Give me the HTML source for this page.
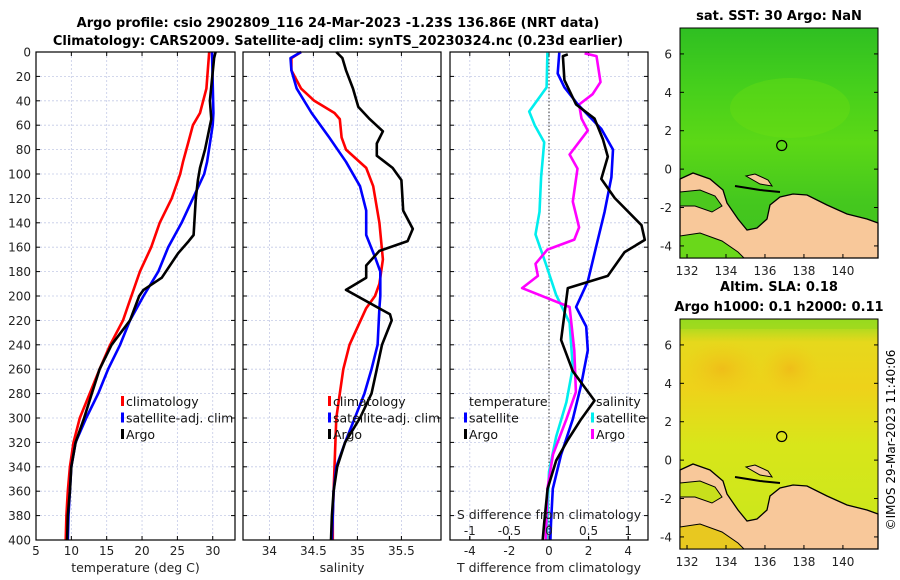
<!DOCTYPE html>
<html><head><meta charset="utf-8"><style>
body{margin:0;background:#fff;}
svg{display:block;font-family:"DejaVu Sans","Liberation Sans",sans-serif;}
</style></head><body>
<svg id="fig" width="900" height="580" viewBox="0 0 900 580" xmlns="http://www.w3.org/2000/svg">
<defs>
<linearGradient id="sstg" x1="0" y1="0" x2="0" y2="1">
<stop offset="0" stop-color="#2fbf22"/><stop offset="0.25" stop-color="#45cf1c"/><stop offset="0.5" stop-color="#5cd816"/><stop offset="0.75" stop-color="#45c81e"/><stop offset="1" stop-color="#3fc020"/></linearGradient>
<linearGradient id="slag" x1="0" y1="0" x2="0" y2="1">
<stop offset="0" stop-color="#8fdd20"/><stop offset="0.1" stop-color="#e6d81c"/><stop offset="0.3" stop-color="#eed21a"/><stop offset="0.55" stop-color="#d8e61a"/><stop offset="1" stop-color="#c8e81c"/></linearGradient>
<radialGradient id="orange1" cx="0.5" cy="0.5" r="0.5"><stop offset="0" stop-color="#f0b818" stop-opacity="0.8"/><stop offset="1" stop-color="#f0c818" stop-opacity="0"/></radialGradient>
</defs>
<text x="338" y="27" font-size="13" font-weight="bold" text-anchor="middle">Argo profile: csio 2902809_116 24-Mar-2023 -1.23S 136.86E (NRT data)</text>
<text x="338" y="45" font-size="13" font-weight="bold" text-anchor="middle">Climatology: CARS2009. Satellite-adj clim: synTS_20230324.nc (0.23d earlier)</text>
<g id="panels"></g>
<g id="maps"></g>
<text transform="translate(895,440) rotate(-90)" font-size="12" text-anchor="middle">©IMOS 29-Mar-2023 11:40:06</text>
</svg>
<script>
// ---- data ----
const tempClimDepth=[0,30,50,60,75,90,100,120,140,160,180,200,220,240,260,280,300,320,340,360,380,400];
const tempClim=[29.5,29.1,28.2,27.2,26.5,25.8,25.4,24.2,22.5,21.3,19.7,18.5,17.3,15.5,14,12.6,11.2,10.3,9.8,9.5,9.3,9.2];
const tempSatDepth=[0,50,60,90,100,120,140,160,180,200,220,240,260,280,300,320,340,360,380,400];
const tempSat=[29.9,30.1,30,29.2,28.8,27.2,25.6,23.7,22.3,20.2,18.3,16.9,15.2,13.8,12.1,10.6,10.0,9.8,9.6,9.5];
const tempArgoDepth=[0,5,40,55,80,95,105,120,150,155,165,185,195,200,220,240,260,280,300,320,340,360,380,400];
const tempArgo=[30.4,30.2,29.6,29.8,28.9,28.2,27.9,27.6,27.3,26.6,25.1,22.8,20.2,19.6,18.3,15.7,14,12.9,11.8,10.6,10,9.8,9.5,9.4];

const salClimDepth=[0,5,15,30,40,50,55,70,80,95,110,140,170,190,200,210,240,260,280,300,320,340,360,380,400];
const salClim=[34.36,34.25,34.25,34.36,34.51,34.74,34.80,34.82,34.87,35.10,35.18,35.25,35.29,35.25,35.2,35.1,34.91,34.84,34.80,34.76,34.75,34.74,34.73,34.72,34.72];
const salSatDepth=[0,5,15,30,50,70,90,110,130,150,170,180,200,210,240,260,280,300,320,340,360,380,400];
const salSat=[34.36,34.24,34.25,34.31,34.48,34.68,34.87,35.03,35.10,35.10,35.21,35.26,35.26,35.25,35.23,35.16,35.08,34.97,34.86,34.76,34.73,34.72,34.71];
const salArgoDepth=[0,5,15,30,45,55,65,75,85,95,105,130,145,155,163,175,185,195,215,220,240,260,280,300,320,340,360,380,400];
const salArgo=[34.76,34.83,34.87,34.95,35.01,35.14,35.29,35.22,35.22,35.40,35.50,35.52,35.63,35.57,35.25,35.10,35.10,34.87,35.37,35.39,35.28,35.22,35.16,35.03,34.86,34.77,34.73,34.71,34.70];

const dTsatDepth=[0.6,17.6,28.9,43,63,80,102.7,131,159,188,209,225,244.5,273,301,330,358,386,400];
const dTsat=[0.52,0.44,0.78,1.46,2.64,3.23,3.15,2.81,2.39,1.96,1.37,1.88,1.96,1.62,1.2,0.61,0.19,0.1,0.07];
const dTargoDepth=[2,3.4,23,43,54.5,71.5,85.7,104,119.7,142,154,164,183.5,193.5,236,261.6,285.7,301,318,335,358,386,400];
const dTargo=[0.95,0.7,0.78,1.37,2.3,2.72,2.97,2.64,3.32,4.67,4.84,3.82,2.97,0.95,0.61,1.2,2.3,1.62,0.95,0.36,-0.07,-0.24,-0.32];
const dSsatDepth=[0.6,29,48.8,60,74,102.7,131,149.5,173.6,199,222,258.7,287,315.5,344,400];
const dSsat=[-0.02,-0.03,-0.25,-0.18,-0.06,-0.10,-0.12,-0.17,-0.04,0.09,0.26,0.30,0.22,0.09,0.0,-0.03];
const dSargoDepth=[1.1,3.4,24.7,34.6,43,54.5,64.4,84,95.6,122.6,143.8,153.8,162,173.6,183.5,193.5,209,244.5,278.6,301,330,358,400];
const dSargo=[0.45,0.6,0.65,0.55,0.38,0.41,0.49,0.26,0.36,0.30,0.38,0.32,-0.02,-0.17,-0.14,-0.34,0.26,0.32,0.34,0.22,0.05,-0.02,-0.04];

const depthTicks=[0,20,40,60,80,100,120,140,160,180,200,220,240,260,280,300,320,340,360,380,400];
const tempTicks=[5,10,15,20,25,30];
const salTicks=[34,34.5,35,35.5];
const dTTicks=[-4,-2,0,2,4];
const dSTicks=[-1,-0.5,0,0.5,1];
const dSTickLabels=["-1","-0.5","0","0.5","1"];
const lonTicks=[132,134,136,138,140];
const latTicks=[6,4,2,0,-2,-4];
const argoLon=136.86, argoLat=1.23;

// ---- helpers ----
const NS="http://www.w3.org/2000/svg";
function mk(tag,attrs,parent,txt){const e=document.createElementNS(NS,tag);for(const k in attrs)e.setAttribute(k,attrs[k]);if(txt!==undefined)e.textContent=txt;parent.appendChild(e);return e;}
const TOP=52,BOT=540;
const yD=d=>TOP+d*(BOT-TOP)/400;
const panelsG=document.getElementById('panels');

function linScale(v0,v1,p0,p1){return v=>p0+(v-v0)*(p1-p0)/(v1-v0);}

const panels=[
 {name:'temperature-panel',x0:36,x1:235,sx:linScale(5,33.15,36,235),ticks:tempTicks,labels:tempTicks.map(String),xlabel:'temperature (deg C)',ylabels:true},
 {name:'salinity-panel',x0:243,x1:441,sx:linScale(33.7,35.95,243,441),ticks:salTicks,labels:salTicks.map(String),xlabel:'salinity',ylabels:false},
 {name:'difference-panel',x0:450,x1:648,sx:linScale(-5,5,450,648),ticks:dTTicks,labels:dTTicks.map(String),xlabel:'T difference from climatology',ylabels:false}
];

panels.forEach(p=>{
 const g=mk('g',{},panelsG);
 
 
 depthTicks.forEach(d=>{
  const l=mk('line',{x1:p.x0,x2:p.x1,y1:yD(d),y2:yD(d),stroke:'#c4cae6','stroke-width':0.8,'stroke-dasharray':'2,2'},g);
  
  
  mk('line',{x1:p.x0,x2:p.x0+4,y1:yD(d),y2:yD(d),stroke:'#000'},g);
  mk('line',{x1:p.x1,x2:p.x1-4,y1:yD(d),y2:yD(d),stroke:'#000'},g);
  if(p.ylabels){const t=mk('text',{x:p.x0-5,y:yD(d)+4.5,'font-size':12,'text-anchor':'end',fill:'#222'},g,String(d));
   }
 });
 p.ticks.forEach((v,i)=>{
  const x=p.sx(v);
  const l=mk('line',{x1:x,x2:x,y1:TOP,y2:BOT,stroke:'#c4cae6','stroke-width':0.8,'stroke-dasharray':'2,2'},g);
  
  
  mk('line',{x1:x,x2:x,y1:BOT,y2:BOT-4,stroke:'#000'},g);
  mk('line',{x1:x,x2:x,y1:TOP,y2:TOP+4,stroke:'#000'},g);
  const t=mk('text',{x:x,y:BOT+15,'font-size':12,'text-anchor':'middle',fill:'#222'},g,p.labels[i]);
  
  
 });
 const xl=mk('text',{x:(p.x0+p.x1)/2,y:572,'font-size':12.5,'text-anchor':'middle',fill:'#222'},g,p.xlabel);
 
 
 p.g=g;
});

function series(p,vals,depths,color,name){
 const pts=vals.map((v,i)=>p.sx(v).toFixed(1)+','+yD(depths[i]).toFixed(1)).join(' ');
 const l=mk('polyline',{points:pts,fill:'none',stroke:color,'stroke-width':2.6,'stroke-linejoin':'round'},p.g);
 
 
}
const P1=panels[0],P2=panels[1],P3=panels[2];
{const z=mk('line',{x1:P3.sx(0),x2:P3.sx(0),y1:TOP,y2:BOT,stroke:'#333','stroke-width':1,'stroke-dasharray':'1.5,2'},P3.g);
 }
series(P1,tempClim,tempClimDepth,'#ff0000','temp-climatology-line');
series(P1,tempSat,tempSatDepth,'#0000ff','temp-satellite-line');
series(P1,tempArgo,tempArgoDepth,'#000','temp-argo-line');
series(P2,salClim,salClimDepth,'#ff0000','sal-climatology-line');
series(P2,salSat,salSatDepth,'#0000ff','sal-satellite-line');
series(P2,salArgo,salArgoDepth,'#000','sal-argo-line');
const sxS=linScale(-1.25,1.25,450,648);
const P3S={sx:sxS,g:P3.g};
series(P3S,dSsat,dSsatDepth,'#00eeee','sdiff-satellite-line');
series(P3S,dSargo,dSargoDepth,'#ff00ff','sdiff-argo-line');
series(P3,dTsat,dTsatDepth,'#0000ff','tdiff-satellite-line');
series(P3,dTargo,dTargoDepth,'#000','tdiff-argo-line');
{const t=mk('text',{x:549,y:519,'font-size':12.5,'text-anchor':'middle',fill:'#222'},P3.g,'S difference from climatology');
 
 dSTicks.forEach((v,i)=>{const x=sxS(v);mk('line',{x1:x,x2:x,y1:BOT,y2:BOT-4,stroke:'#000'},P3.g);
  const l=mk('text',{x:x,y:535,'font-size':12,'text-anchor':'middle',fill:'#222'},P3.g,dSTickLabels[i]);
  });}
panels.forEach(p=>{const r=mk('rect',{x:p.x0,y:TOP,width:p.x1-p.x0,height:BOT-TOP,fill:'none',stroke:'#000','stroke-width':1.2},p.g);
 });
function legend(g,x,y,items){items.forEach((it,i)=>{
 const yy=y+i*16.5;
 if(it[1]){mk('rect',{x:x,y:yy-10,width:3,height:10,fill:it[1]},g);}
 const t=mk('text',{x:x+5,y:yy,'font-size':12.5,fill:'#111'},g,it[0]);
 });}
legend(P1.g,121,406,[['climatology','#f00'],['satellite-adj. clim','#00f'],['Argo','#000']]);
legend(P2.g,328,406,[['climatology','#f00'],['satellite-adj. clim','#00f'],['Argo','#000']]);
legend(P3.g,464,406,[['temperature',null],['satellite','#00f'],['Argo','#000']]);
legend(P3.g,591,406,[['salinity',null],['satellite','#0ee'],['Argo','#f0f']]);

// ---- maps ----
const mapsG=document.getElementById('maps');
const MX0=680,MX1=878,MH=230;
const mx=linScale(131.64,141.8,MX0,MX1);
const landPts=[[680,179],[693,173],[710,179],[723,190],[727,203],[738,219],[747,230],[757,228],[767,219],[770,205],[780,197],[793,194],[807,195],[827,205],[847,214],[867,219],[878,223],[878,258],[680,258]];
function drawMap(top,fillId,name,title1,title2){
 const g=mk('g',{},mapsG);
 
 
 const my=lat=>top+(7.35-lat)*19.2;
 mk('rect',{x:MX0,y:top,width:MX1-MX0,height:MH,fill:'url(#'+fillId+')'},g);
 if(fillId==='slag'){
  mk('ellipse',{cx:722,cy:top+50,rx:40,ry:28,fill:'url(#orange1)'},g);
  mk('ellipse',{cx:790,cy:top+50,rx:30,ry:26,fill:'url(#orange1)'},g);
  mk('rect',{x:MX0,y:top,width:MX1-MX0,height:10,fill:'#9ad81e',opacity:0.7},g);
 } else {
  mk('ellipse',{cx:790,cy:top+80,rx:60,ry:30,fill:'#70e010',opacity:0.35},g);
 }
 const off=top-28;
 const lp=mk('polygon',{points:landPts.map(q=>q[0]+','+(q[1]+off)).join(' '),fill:'#f8c89a',stroke:'#000','stroke-width':1.3},g);
 
 const sea=fillId==='sstg'?'#4cc81e':'#c8e01c';
 mk('polygon',{points:[[680,192],[700,190],[715,196],[722,206],[712,212],[695,206],[680,206]].map(q=>q[0]+','+(q[1]+off)).join(' '),fill:sea,stroke:'#000','stroke-width':1},g);
 mk('polygon',{points:[[680,236],[700,233],[722,241],[738,252],[744,258],[680,258]].map(q=>q[0]+','+(q[1]+off)).join(' '),fill:fillId==='sstg'?'#6ad81a':'#e8c820',stroke:'#000','stroke-width':1},g);
 mk('polygon',{points:[[746,176],[755,174],[768,180],[772,186],[760,184]].map(q=>q[0]+','+(q[1]+off)).join(' '),fill:'#f8c89a',stroke:'#000','stroke-width':1},g);
 mk('polyline',{points:[[735,186],[760,190],[780,192]].map(q=>q[0]+','+(q[1]+off)).join(' '),fill:'none',stroke:'#000','stroke-width':2},g);
 const c=mk('circle',{cx:mx(argoLon),cy:my(argoLat),r:5,fill:'none',stroke:'#000','stroke-width':1.2},g);
 
 mk('rect',{x:MX0,y:top,width:MX1-MX0,height:MH,fill:'none',stroke:'#000','stroke-width':1},g);
 lonTicks.forEach(v=>{const x=mx(v);mk('line',{x1:x,x2:x,y1:top+MH,y2:top+MH-4,stroke:'#000'},g);
  const t=mk('text',{x:x,y:top+MH+17,'font-size':12,'text-anchor':'middle',fill:'#222'},g,String(v));
  });
 latTicks.forEach(v=>{const y=my(v);mk('line',{x1:MX0,x2:MX0+4,y1:y,y2:y,stroke:'#000'},g);mk('line',{x1:MX1,x2:MX1-4,y1:y,y2:y,stroke:'#000'},g);
  const t=mk('text',{x:MX0-8,y:y+4.5,'font-size':12,'text-anchor':'end',fill:'#222'},g,String(v));
  });
 if(title1){const t=mk('text',{x:779,y:title2?top-28:top-8,'font-size':13,'font-weight':'bold','text-anchor':'middle'},g,title1);}
 if(title2){const t=mk('text',{x:779,y:top-8,'font-size':13,'font-weight':'bold','text-anchor':'middle'},g,title2);}
}
drawMap(28,'sstg','sst-map','sat. SST: 30 Argo: NaN',null);
drawMap(319,'slag','sla-map','Altim. SLA: 0.18','Argo h1000: 0.1 h2000: 0.11');
</script>
</body></html>
